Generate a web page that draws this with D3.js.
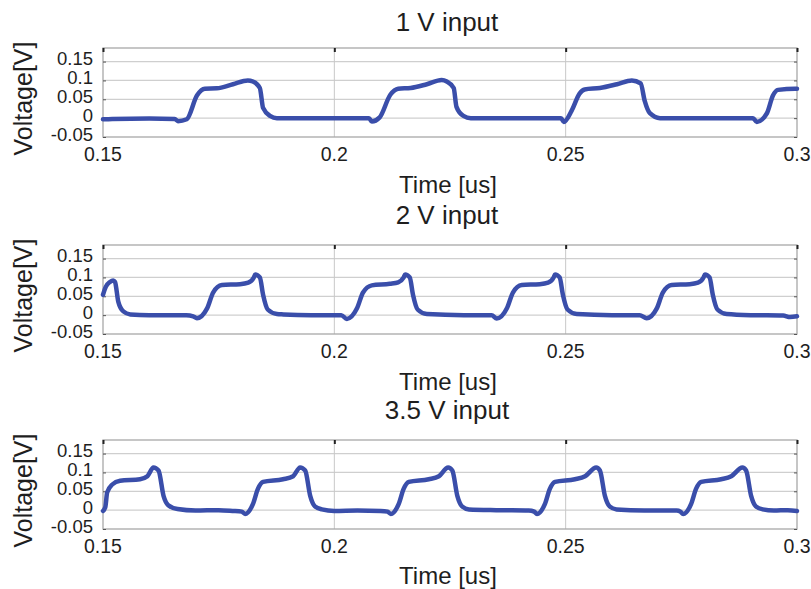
<!DOCTYPE html>
<html>
<head>
<meta charset="utf-8">
<script src="https://cdn.jsdelivr.net/npm/d3@7"></script>
<style>
body { margin: 0; background: #fff; }
svg { display: block; }
text { font-family: "Liberation Sans", Arial, Helvetica, sans-serif; fill: #1e1e1e; }
</style>
</head>
<body>
<svg width="811" height="589"></svg>
<script>
// panel titles and tick labels
var titles = ["1 V input", "2 V input", "3.5 V input"];
var xTicks = [0.15, 0.2, 0.25, 0.3];
var yTicks = [-0.05, 0, 0.05, 0.1, 0.15];

// waveforms: [time (us), voltage (V)]
var wave1 = [
  [0.150, -0.003], [0.152, -0.002], [0.160, -0.001], [0.1655, -0.002],
  [0.1662, -0.008], [0.1681, -0.003], [0.1703, 0.060], [0.1720, 0.078], [0.1746, 0.079],
  [0.1781, 0.090], [0.1813, 0.100], [0.1824, 0.097], [0.1839, 0.080], [0.1846, 0.027],
  [0.1861, 0.006], [0.1876, 0.000], [0.195, 0.000], [0.2075, 0.000],
  [0.2081, -0.009], [0.2098, 0.002], [0.2121, 0.062], [0.2138, 0.078], [0.2165, 0.080],
  [0.2200, 0.090], [0.2232, 0.101], [0.2243, 0.097], [0.2258, 0.080], [0.2264, 0.030],
  [0.2279, 0.006], [0.2295, 0.000], [0.240, 0.000], [0.249, 0.000],
  [0.2496, -0.010], [0.2513, 0.020], [0.2530, 0.065], [0.2541, 0.076], [0.2574, 0.080],
  [0.2611, 0.090], [0.2643, 0.100], [0.2662, 0.092], [0.2671, 0.045], [0.2682, 0.013],
  [0.2704, 0.000], [0.280, 0.000], [0.2905, 0.000],
  [0.2913, -0.010], [0.2935, 0.013], [0.2948, 0.060], [0.2959, 0.075], [0.2996, 0.078], [0.300, 0.078]
];

var wave2 = [
  [0.150, 0.054], [0.1506, 0.075], [0.1515, 0.088], [0.1522, 0.092], [0.1526, 0.088],
  [0.1533, 0.036], [0.1544, 0.010], [0.1559, 0.002], [0.160, 0.000], [0.168, 0.000], [0.1695, -0.003],
  [0.1703, -0.008], [0.1725, 0.018], [0.1738, 0.060], [0.1757, 0.080], [0.1796, 0.082],
  [0.1814, 0.086], [0.1826, 0.100], [0.1829, 0.108], [0.1839, 0.100], [0.1846, 0.054],
  [0.1856, 0.015], [0.1876, 0.003], [0.1890, 0.002], [0.195, 0.000], [0.2015, 0.000],
  [0.2027, -0.010], [0.2049, 0.018], [0.2062, 0.060], [0.2081, 0.079], [0.2120, 0.083],
  [0.2138, 0.087], [0.2150, 0.100], [0.2153, 0.108], [0.2163, 0.100], [0.2170, 0.054],
  [0.2180, 0.015], [0.2200, 0.003], [0.228, 0.000], [0.234, 0.000],
  [0.2351, -0.009], [0.2373, 0.018], [0.2386, 0.060], [0.2405, 0.080], [0.2444, 0.082],
  [0.2462, 0.086], [0.2474, 0.100], [0.2477, 0.108], [0.2487, 0.100], [0.2494, 0.054],
  [0.2504, 0.015], [0.2524, 0.003], [0.260, 0.000], [0.266, 0.000],
  [0.2675, -0.008], [0.2697, 0.018], [0.2710, 0.060], [0.2729, 0.080], [0.2768, 0.082],
  [0.2786, 0.086], [0.2798, 0.100], [0.2801, 0.108], [0.2811, 0.100], [0.2818, 0.054],
  [0.2828, 0.015], [0.2848, 0.003], [0.290, 0.000], [0.297, -0.001], [0.2985, -0.005], [0.300, -0.003]
];

var wave3 = [
  [0.150, -0.002], [0.1505, 0.008], [0.1509, 0.047], [0.1520, 0.068], [0.1537, 0.078],
  [0.1580, 0.082], [0.1596, 0.090], [0.1609, 0.113], [0.1620, 0.105], [0.1631, 0.037],
  [0.1641, 0.013], [0.1661, 0.003], [0.170, -0.001], [0.175, 0.000], [0.178, -0.002], [0.1800, -0.004],
  [0.1807, -0.010], [0.1824, 0.016], [0.1835, 0.057], [0.1846, 0.075], [0.1889, 0.082],
  [0.1911, 0.090], [0.1926, 0.113], [0.1937, 0.105], [0.1948, 0.037], [0.1958, 0.010],
  [0.1973, 0.002], [0.200, -0.002], [0.205, -0.001], [0.210, -0.002], [0.2115, -0.004],
  [0.2122, -0.010], [0.2139, 0.016], [0.2150, 0.057], [0.2161, 0.075], [0.2204, 0.082],
  [0.2226, 0.090], [0.2246, 0.113], [0.2255, 0.105], [0.2266, 0.037], [0.2276, 0.010],
  [0.2291, 0.002], [0.235, 0.000], [0.242, -0.001], [0.2432, -0.004],
  [0.2438, -0.010], [0.2455, 0.016], [0.2466, 0.057], [0.2477, 0.075], [0.2520, 0.082],
  [0.2542, 0.090], [0.2566, 0.113], [0.2574, 0.105], [0.2585, 0.037], [0.2595, 0.010],
  [0.2610, 0.002], [0.267, -0.001], [0.274, -0.001], [0.2748, -0.004],
  [0.2754, -0.010], [0.2771, 0.016], [0.2782, 0.057], [0.2793, 0.075], [0.2836, 0.082],
  [0.2858, 0.090], [0.2882, 0.113], [0.2890, 0.105], [0.2901, 0.037], [0.2911, 0.010],
  [0.2926, 0.002], [0.295, -0.001], [0.298, 0.000], [0.300, -0.002]
];

var waves = [wave1, wave2, wave3];

var svg = d3.select("svg");
var left = 103, right = 797, plotH = 89;
var panelTop = [48, 245, 440];
var titleY = [31, 224, 419];
var xLabelY = [193, 390, 584];

var xScale = d3.scaleLinear().domain([0.15, 0.3]).range([left, right]);
var fmt = function(d) { return String(d); };

waves.forEach(function(data, i) {
    var top = panelTop[i];
    var yScale = d3.scaleLinear().domain([-0.05, 0.186]).range([top + plotH, top]);
    var g = svg.append("g");

    // horizontal grid
    g.selectAll(".hgrid").data(yTicks.filter(function(d) { return d > -0.05; }))
        .enter().append("line")
        .attr("x1", left).attr("x2", right)
        .attr("y1", function(d) { return yScale(d); })
        .attr("y2", function(d) { return yScale(d); })
        .attr("stroke", "#cfcfcf").attr("stroke-width", 1.2);

    // vertical grid at inner ticks
    g.selectAll(".vgrid").data(xTicks.slice(1, 3))
        .enter().append("line")
        .attr("x1", function(d) { return xScale(d); })
        .attr("x2", function(d) { return xScale(d); })
        .attr("y1", top).attr("y2", top + plotH)
        .attr("stroke", "#c8c8c8").attr("stroke-width", 1);

    // frame
    g.append("rect")
        .attr("x", left).attr("y", top)
        .attr("width", right - left).attr("height", plotH)
        .attr("fill", "none").attr("stroke", "#a8a8a8").attr("stroke-width", 1.3);

    // small inner tick marks on both sides
    var yAxisL = d3.axisRight(yScale).tickValues(yTicks).tickSize(3).tickFormat("");
    g.append("g").attr("transform", "translate(" + left + ",0)").call(yAxisL)
        .call(function(s) { s.select(".domain").remove(); s.selectAll("line").attr("stroke", "#555"); });
    var yAxisR = d3.axisLeft(yScale).tickValues(yTicks).tickSize(3).tickFormat("");
    g.append("g").attr("transform", "translate(" + right + ",0)").call(yAxisR)
        .call(function(s) { s.select(".domain").remove(); s.selectAll("line").attr("stroke", "#555"); });
    var xAxisT = d3.axisBottom(xScale).tickValues(xTicks).tickSize(4).tickFormat("");
    g.append("g").attr("transform", "translate(0," + top + ")").call(xAxisT)
        .call(function(s) { s.select(".domain").remove(); s.selectAll("line").attr("stroke", "#222").attr("stroke-width", 2); });

    // y tick labels (tightly stacked, as in the original)
    g.selectAll(".ylab").data(yTicks).enter().append("text")
        .attr("x", left - 10)
        .attr("y", function(d) { return yScale(d); })
        .attr("dy", "0.2em")
        .attr("text-anchor", "end")
        .attr("font-size", "18.5px")
        .text(fmt);

    // x tick labels
    g.selectAll(".xlab").data(xTicks).enter().append("text")
        .attr("x", function(d) { return xScale(d); })
        .attr("y", top + plotH + 24)
        .attr("text-anchor", "middle")
        .attr("font-size", "19.5px")
        .text(fmt);

    // trace
    var line = d3.line()
        .x(function(d) { return xScale(d[0]); })
        .y(function(d) { return yScale(d[1]); })
        .curve(d3.curveMonotoneX);
    g.append("path").datum(data)
        .attr("d", line)
        .attr("fill", "none")
        .attr("stroke", "#3a4eaa")
        .attr("stroke-width", 4.5)
        .attr("stroke-linejoin", "round")
        .attr("stroke-linecap", "round");

    // labels
    g.append("text")
        .attr("x", 447).attr("y", titleY[i])
        .attr("text-anchor", "middle").attr("font-size", "26px")
        .text(titles[i]);
    g.append("text")
        .attr("x", 448).attr("y", xLabelY[i])
        .attr("text-anchor", "middle").attr("font-size", "24px")
        .text("Time [us]");
    g.append("text")
        .attr("transform", "translate(32," + (top + plotH / 2 + 6) + ") rotate(-90)")
        .attr("text-anchor", "middle").attr("font-size", "25px")
        .text("Voltage[V]");
});
</script>
</body>
</html>
